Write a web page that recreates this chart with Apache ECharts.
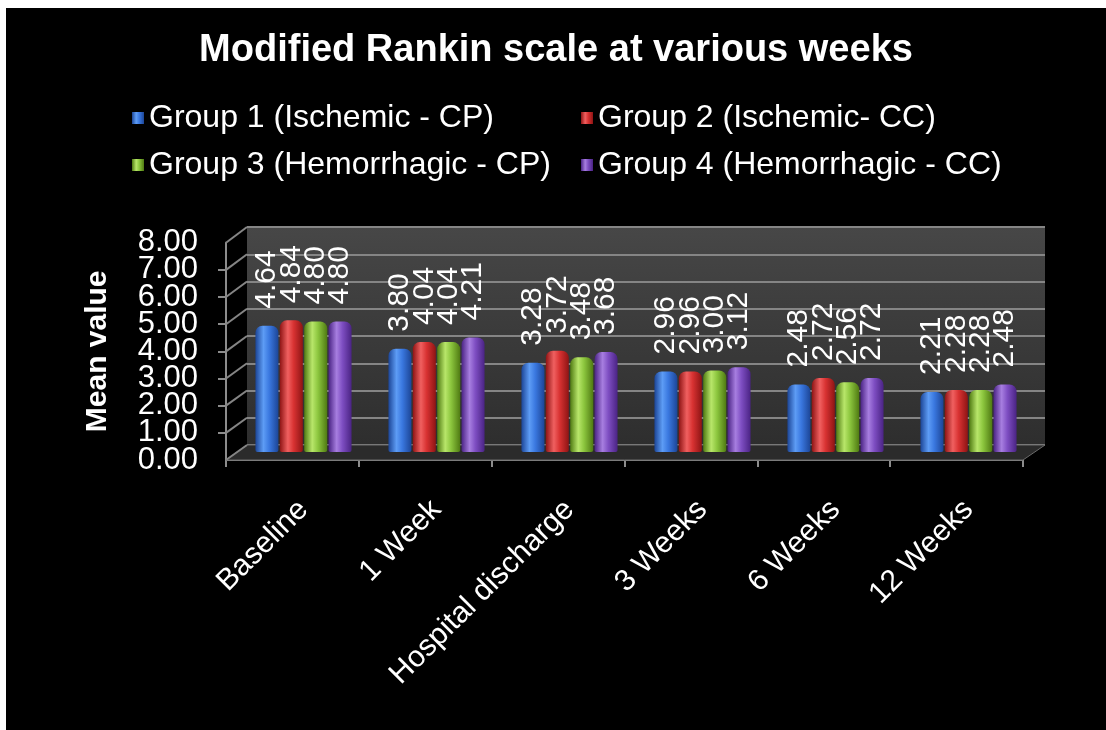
<!DOCTYPE html>
<html>
<head>
<meta charset="utf-8">
<script src="https://cdn.jsdelivr.net/npm/echarts@6/dist/echarts.min.js"></script>
<style>
html,body{margin:0;padding:0;background:#ffffff;width:1106px;height:730px;overflow:hidden;}
#chart{position:absolute;left:6px;top:8px;width:1100px;height:722px;background:#000;}
</style>
</head>
<body>
<div id="chart"></div>
<script>
// ---- data ----
const categories = ['Baseline', '1 Week', 'Hospital discharge', '3 Weeks', '6 Weeks', '12 Weeks'];
const seriesNames = ['Group 1 (Ischemic - CP)', 'Group 2 (Ischemic- CC)', 'Group 3 (Hemorrhagic - CP)', 'Group 4 (Hemorrhagic - CC)'];
const group1 = [4.64, 3.80, 3.28, 2.96, 2.48, 2.21];
const group2 = [4.84, 4.04, 3.72, 2.96, 2.72, 2.28];
const group3 = [4.80, 4.04, 3.48, 3.00, 2.56, 2.28];
const group4 = [4.80, 4.21, 3.68, 3.12, 2.72, 2.48];
const yMin = 0, yMax = 8, yStep = 1;
const titleText = 'Modified Rankin scale at various weeks';
const yAxisTitle = 'Mean value';

// ---- styling / layout ----
const FONT = '"Liberation Sans", Arial, sans-serif';
const BACK = {left: 241, top: 219, width: 798, height: 218};   // back wall
const FRONT = {left: 220, top: 234.7, width: 797, height: 217.3}; // front axes
const BARS = {left: 231, top: 226.4, width: 798, height: 217.6}; // bars plane
function cyl(dark, light, mid) {
  return new echarts.graphic.LinearGradient(0, 0, 1, 0, [
    {offset: 0, color: dark}, {offset: 0.35, color: light}, {offset: 0.6, color: mid}, {offset: 1, color: dark}
  ]);
}
const colors = [
  cyl('#1c4596', '#5d9cf5', '#3a78e0'),
  cyl('#8e1414', '#f06060', '#d83232'),
  cyl('#4f7a12', '#b8e66a', '#8cc63e'),
  cyl('#4a2384', '#a77ee0', '#7e4ec2')
];
const groups = [group1, group2, group3, group4];
const yLabelStyle = {color: '#ffffff', fontSize: 31, fontFamily: FONT, margin: 28,
  formatter: v => v.toFixed(2)};

const chart = echarts.init(document.getElementById('chart'));
const legendCommon = {orient: 'vertical', top: 92, padding: 0,
  itemWidth: 12, itemHeight: 12, itemGap: 11, icon: 'rect',
  textStyle: {color: '#ffffff', fontSize: 32, fontFamily: FONT, lineHeight: 36}};
const option = {
  backgroundColor: '#000000',
  animation: false,
  title: {
    text: titleText, left: 'center', top: 19,
    textStyle: {color: '#ffffff', fontSize: 38, fontWeight: 'bold', fontFamily: FONT}
  },
  legend: [
    Object.assign({data: [seriesNames[0], seriesNames[2]], left: 126}, legendCommon),
    Object.assign({data: [seriesNames[1], seriesNames[3]], left: 575}, legendCommon)
  ],
  grid: [
    Object.assign({show: true, borderWidth: 0, containLabel: false,
      backgroundColor: new echarts.graphic.LinearGradient(0, 0, 0, 1, [
        {offset: 0, color: '#474747'}, {offset: 1, color: '#2e2e2e'}])}, BACK),
    Object.assign({containLabel: false}, FRONT),
    Object.assign({containLabel: false}, BARS)
  ],
  xAxis: [
    {gridIndex: 0, type: 'category', data: categories, show: false},
    {gridIndex: 1, type: 'category', data: categories,
     axisLine: {lineStyle: {color: '#8c8c8c', width: 2}},
     axisTick: {show: true, length: 7, lineStyle: {color: '#8c8c8c', width: 2}},
     axisLabel: {show: false}},
    {gridIndex: 2, type: 'category', data: categories,
     axisLine: {show: false}, axisTick: {show: false},
     axisLabel: {rotate: 45, margin: 53, color: '#ffffff', fontSize: 30, fontFamily: FONT, interval: 0}}
  ],
  yAxis: [
    {gridIndex: 0, type: 'value', min: yMin, max: yMax, interval: yStep,
     axisLine: {show: false}, axisTick: {show: false}, axisLabel: {show: false},
     splitLine: {show: true, lineStyle: {color: '#858585', width: 2}}},
    {gridIndex: 1, type: 'value', position: 'left', min: yMin, max: yMax, interval: yStep,
     name: yAxisTitle, nameLocation: 'middle', nameGap: 113, nameRotate: 90,
     nameTextStyle: {color: '#ffffff', fontSize: 30, fontWeight: 'bold', fontFamily: FONT},
     axisLine: {show: true, lineStyle: {color: '#8c8c8c', width: 2}},
     axisTick: {show: true, length: 8, lineStyle: {color: '#8c8c8c', width: 2}},
     axisLabel: Object.assign({showMinLabel: false, showMaxLabel: false}, yLabelStyle),
     splitLine: {show: false}},
    {gridIndex: 2, type: 'value', min: yMin, max: yMax, interval: yStep, show: false,
     splitLine: {show: false}},
    // end labels (min / max) of the front value axis
    {gridIndex: 1, type: 'value', position: 'left', offset: 0, min: yMin, max: yMax, interval: yMax - yMin,
     axisLine: {show: false}, axisTick: {show: false}, splitLine: {show: false},
     axisLabel: Object.assign({showMinLabel: true, showMaxLabel: true}, yLabelStyle)}
  ],
  series: groups.map((g, i) => ({
    name: seriesNames[i], type: 'bar', xAxisIndex: 2, yAxisIndex: 2, data: g,
    barWidth: 23, barGap: '6%', z: 3,
    itemStyle: {color: colors[i], borderRadius: [7, 7, 2, 2]},
    label: {show: true, position: 'top', rotate: 90, align: 'left', verticalAlign: 'middle',
      distance: 17, color: '#ffffff', fontSize: 30, fontFamily: FONT,
      formatter: p => p.value.toFixed(2)}
  }))
};
chart.setOption(option);

// decorative 3D floor + side wall, using the axes' own scale for the side lines
const fx = FRONT.left, bx = BACK.left;
const fy0 = chart.convertToPixel({yAxisIndex: 1}, yMin);
const by0 = chart.convertToPixel({yAxisIndex: 0}, yMin);
const deco = [{
  type: 'polygon', z: 1,
  shape: {points: [[fx, fy0], [FRONT.left + FRONT.width, fy0], [BACK.left + BACK.width, by0], [bx, by0]]},
  style: {fill: '#2b2b2b', stroke: '#6a6a6a', lineWidth: 1}
}];
for (let v = yMin; v <= yMax; v += yStep) {
  const fy = chart.convertToPixel({yAxisIndex: 1}, v);
  const by = chart.convertToPixel({yAxisIndex: 0}, v);
  deco.push({type: 'line', z: 1, shape: {x1: fx, y1: fy, x2: bx, y2: by},
    style: {stroke: '#858585', lineWidth: 2}});
}
chart.setOption({graphic: deco});
</script>
</body>
</html>
